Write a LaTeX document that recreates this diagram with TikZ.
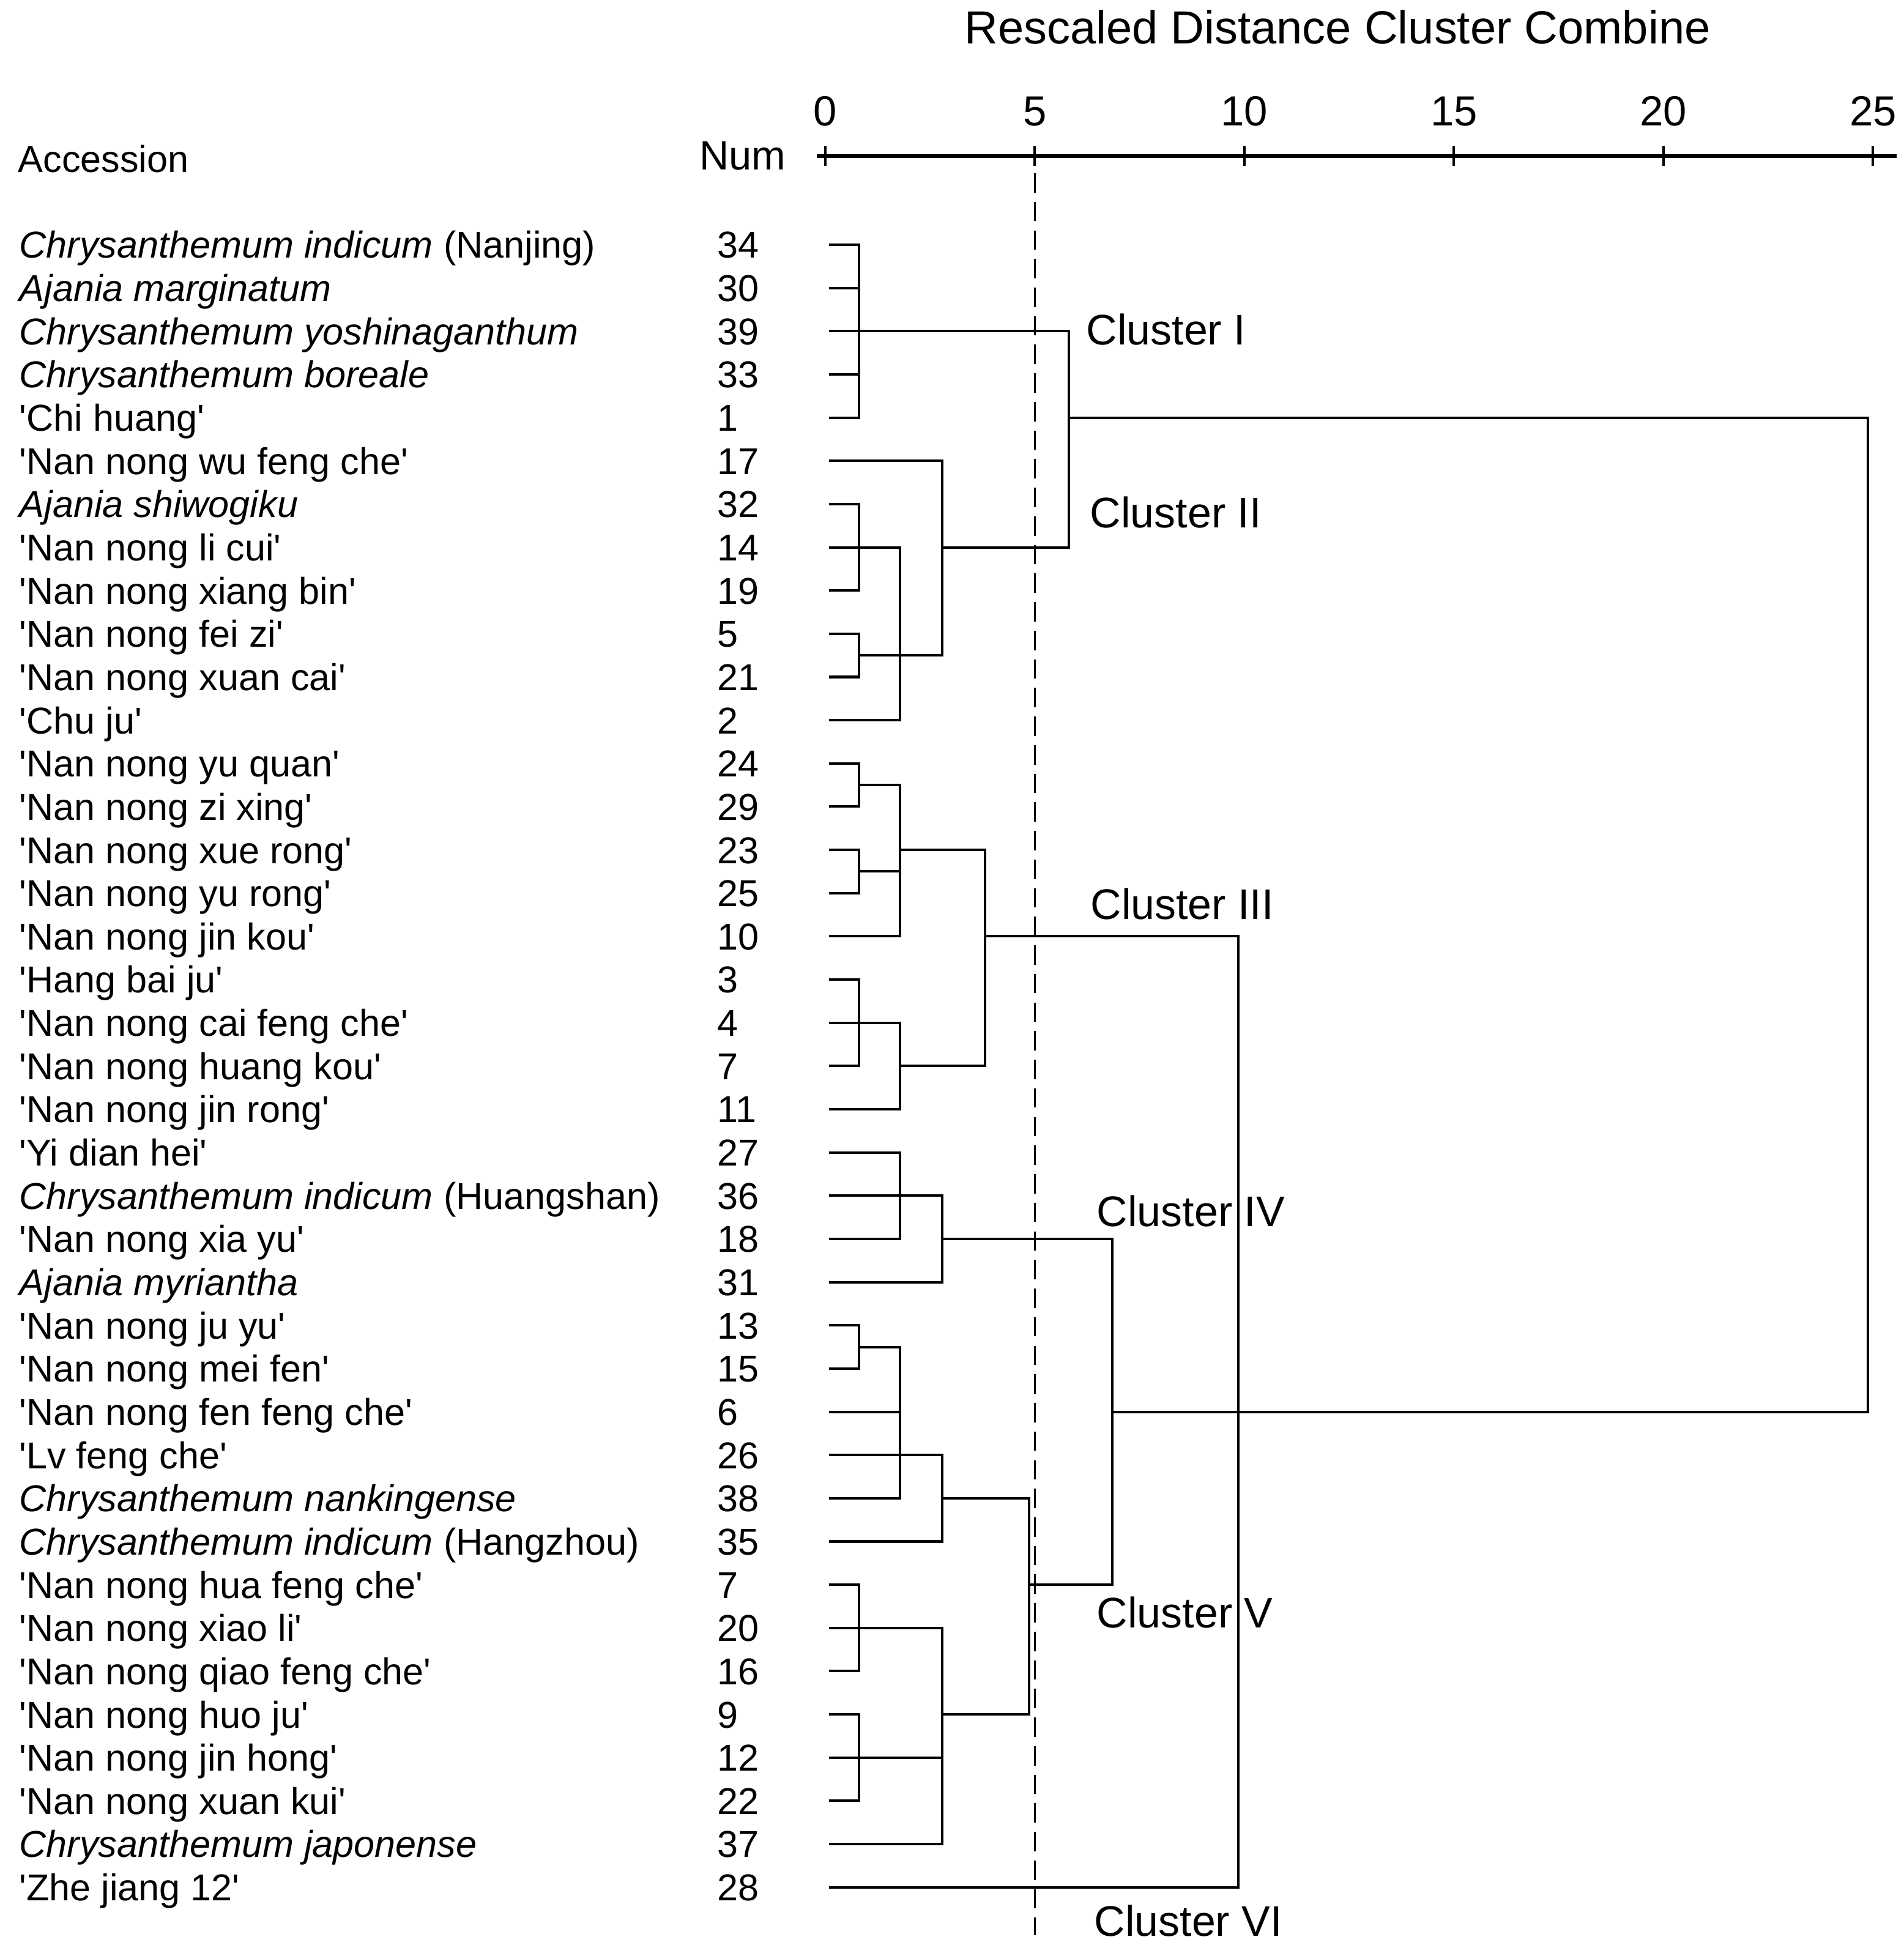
\documentclass[tikz,border=0pt]{standalone}
\usepackage{fontspec}
\setmainfont{Liberation Sans}
\tikzset{
  tree/.style={line width=1.15pt, line cap=rect},
  axisline/.style={line width=1.9pt},
  acc/.style={anchor=base west, inner sep=0pt, font=\fontsize{17.4}{20}\selectfont},
  clus/.style={anchor=base west, inner sep=0pt, font=\fontsize{19.9}{23}\selectfont},
  ticklbl/.style={anchor=base, inner sep=0pt, font=\fontsize{19.6}{23}\selectfont},
}
\newcommand{\cv}[1]{\textquotesingle#1\textquotesingle}
\begin{document}
\begin{tikzpicture}[x=0.685cm, y=-0.7065cm]
	\useasboundingbox (-19.693,-4.662) rectangle (25.737,40.59);

	% Title and scale
	\node[ticklbl, font=\fontsize{21.6}{25}\selectfont] (title) at (12.22,-3.657) {Rescaled Distance Cluster Combine};
	\node[acc] (hacc) at (-19.27,-0.684) {Accession};
	\node[acc, font=\fontsize{19}{22}\selectfont] (hnum) at (-3.01,-0.741) {Num};
	\draw[axisline] (-0.2,-1.052) -- (25.56,-1.052);
	\foreach \t in {0,5,...,25} {
		\draw[tree, line cap=butt] (\t,-1.278) -- (\t,-0.826);
		\node[ticklbl] (t\t) at (\t,-1.76) {\t};
	}

	% Accessions and leaves
	\foreach \name/\num/\len [count=\i] in {
		{\textit{Chrysanthemum indicum} (Nanjing)}/34/0.8,
		{\textit{Ajania marginatum}}/30/0.8,
		{\textit{Chrysanthemum yoshinaganthum}}/39/0.8,
		{\textit{Chrysanthemum boreale}}/33/0.8,
		{\cv{Chi huang}}/1/0.8,
		{\cv{Nan nong wu feng che}}/17/2.79,
		{\textit{Ajania shiwogiku}}/32/0.8,
		{\cv{Nan nong li cui}}/14/0.8,
		{\cv{Nan nong xiang bin}}/19/0.8,
		{\cv{Nan nong fei zi}}/5/0.8,
		{\cv{Nan nong xuan cai}}/21/0.8,
		{\cv{Chu ju}}/2/1.78,
		{\cv{Nan nong yu quan}}/24/0.8,
		{\cv{Nan nong zi xing}}/29/0.8,
		{\cv{Nan nong xue rong}}/23/0.8,
		{\cv{Nan nong yu rong}}/25/0.8,
		{\cv{Nan nong jin kou}}/10/1.78,
		{\cv{Hang bai ju}}/3/0.8,
		{\cv{Nan nong cai feng che}}/4/0.8,
		{\cv{Nan nong huang kou}}/7/0.8,
		{\cv{Nan nong jin rong}}/11/1.78,
		{\cv{Yi dian hei}}/27/1.78,
		{\textit{Chrysanthemum indicum} (Huangshan)}/36/1.78,
		{\cv{Nan nong xia yu}}/18/1.78,
		{\textit{Ajania myriantha}}/31/2.79,
		{\cv{Nan nong ju yu}}/13/0.8,
		{\cv{Nan nong mei fen}}/15/0.8,
		{\cv{Nan nong fen feng che}}/6/1.78,
		{\cv{Lv feng che}}/26/2.79,
		{\textit{Chrysanthemum nankingense}}/38/1.78,
		{\textit{Chrysanthemum indicum} (Hangzhou)}/35/2.79,
		{\cv{Nan nong hua feng che}}/7/0.8,
		{\cv{Nan nong xiao li}}/20/0.8,
		{\cv{Nan nong qiao feng che}}/16/0.8,
		{\cv{Nan nong huo ju}}/9/0.8,
		{\cv{Nan nong jin hong}}/12/0.8,
		{\cv{Nan nong xuan kui}}/22/0.8,
		{\textit{Chrysanthemum japonense}}/37/2.79,
		{\cv{Zhe jiang 12}}/28/9.85} {
		\node[acc] (acc\i) at (-19.24,\i+0.31) {\name};
		\node[acc] (num\i) at (-2.58,\i+0.31) {\num};
		\draw[tree] (0.12,\i) -- (\len,\i);
	}

	% Cut-off line
	\draw[dashed, dash pattern=on 9pt off 4.3pt, line width=1pt] (5,-0.656) -- (5,40.11);

	% Cluster I
	\draw[tree] (0.8,1) -- (0.8,5) (0.8,3) -- (5.81,3);
	% Cluster II
	\draw[tree] (0.8,7) -- (0.8,9) (0.8,8) -- (1.78,8);
	\draw[tree] (0.8,10) -- (0.8,11) (0.8,10.5) -- (2.79,10.5);
	\draw[tree] (1.78,8) -- (1.78,12);
	\draw[tree] (2.79,6) -- (2.79,10.5) (2.79,8) -- (5.81,8);
	\draw[tree] (5.81,3) -- (5.81,8) (5.81,5) -- (24.87,5);

	% Cluster III
	\draw[tree] (0.8,13) -- (0.8,14) (0.8,13.5) -- (1.78,13.5);
	\draw[tree] (0.8,15) -- (0.8,16) (0.8,15.5) -- (1.78,15.5);
	\draw[tree] (1.78,13.5) -- (1.78,17) (1.78,15) -- (3.81,15);
	\draw[tree] (0.8,18) -- (0.8,20) (0.8,19) -- (1.78,19);
	\draw[tree] (1.78,19) -- (1.78,21) (1.78,20) -- (3.81,20);
	\draw[tree] (3.81,15) -- (3.81,20) (3.81,17) -- (9.85,17);

	% Cluster IV
	\draw[tree] (1.78,22) -- (1.78,24) (1.78,23) -- (2.79,23);
	\draw[tree] (2.79,23) -- (2.79,25) (2.79,24) -- (6.85,24);

	% Cluster V
	\draw[tree] (0.8,26) -- (0.8,27) (0.8,26.5) -- (1.78,26.5);
	\draw[tree] (1.78,26.5) -- (1.78,30);
	\draw[tree] (2.79,29) -- (2.79,31) (2.79,30) -- (4.86,30);
	\draw[tree] (0.8,32) -- (0.8,34) (0.8,33) -- (2.79,33);
	\draw[tree] (0.8,35) -- (0.8,37) (0.8,36) -- (2.79,36);
	\draw[tree] (2.79,33) -- (2.79,38) (2.79,35) -- (4.86,35);
	\draw[tree] (4.86,30) -- (4.86,35) (4.86,32) -- (6.85,32);
	\draw[tree] (6.85,24) -- (6.85,32) (6.85,28) -- (24.87,28);

	% Cluster VI and top joins
	\draw[tree] (9.85,17) -- (9.85,39);
	\draw[tree] (24.87,5) -- (24.87,28);

	\node[clus] (cI) at (6.22,3.31) {Cluster I};
	\node[clus] (cII) at (6.31,7.55) {Cluster II};
	\node[clus] (cIII) at (6.32,16.61) {Cluster III};
	\node[clus] (cIV) at (6.47,23.71) {Cluster IV};
	\node[clus] (cV) at (6.47,33.0) {Cluster V};
	\node[clus] (cVI) at (6.41,40.13) {Cluster VI};
\end{tikzpicture}
\end{document}
